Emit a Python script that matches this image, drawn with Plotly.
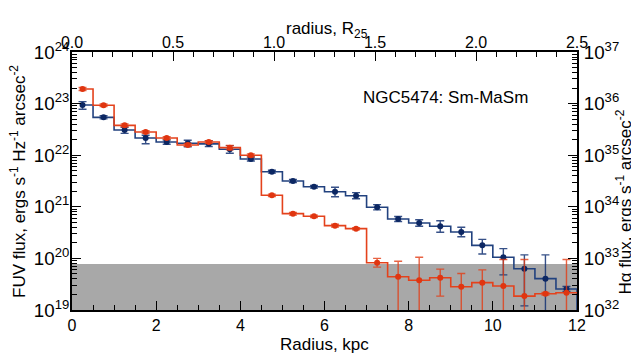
import plotly.graph_objects as go

# ---------------- data ----------------
r_kpc = [0.25, 0.75, 1.25, 1.75, 2.25, 2.75, 3.25, 3.75, 4.25, 4.75, 5.25, 5.75,
         6.25, 6.75, 7.25, 7.75, 8.25, 8.75, 9.25, 9.75, 10.25, 10.75, 11.25, 11.75]
profile_start_kpc = 0.2
profile_end_kpc = 12.0

fuv_flux = [9.4e22, 5.42e22, 3.08e22, 2.15e22, 1.80e22, 1.70e22, 1.66e22, 1.30e22,
            8.43e21, 4.79e21, 3.16e21, 2.45e21, 1.96e21, 1.64e21, 9.8e20, 5.8e20,
            4.85e20, 4.19e20, 3.25e20, 1.79e20, 1.05e20, 6.3e19, 4.05e19, 2.55e19]
fuv_hi = [1.09e23, 5.8e22, 3.48e22, 2.43e22, 1.97e22, 1.95e22, 1.90e22, 1.53e22,
          9.2e21, 5.1e21, 3.4e21, 2.6e21, 2.39e21, 1.88e21, 1.1e21, 6.5e20,
          5.6e20, 5.38e20, 4.01e20, 2.34e20, 1.55e20, 1.17e20, 1.17e20, 2.85e19]
fuv_lo = [7.76e22, 5.05e22, 2.65e22, 1.67e22, 1.63e22, 1.46e22, 1.47e22, 1.09e22,
          7.7e21, 4.5e21, 2.95e21, 2.3e21, 1.57e21, 1.43e21, 8.7e20, 5.2e20,
          4.2e20, 3.21e20, 2.63e20, 1.22e20, 4.8e19, 1.2e19, 1e18, 2.28e19]

ha_flux = [1.92e36, 9.27e35, 3.79e35, 2.82e35, 2.15e35, 1.58e35, 1.80e35, 1.40e35,
           9.95e34, 1.67e34, 7.36e33, 6.55e33, 4.31e33, 3.77e33, 8.26e32, 4.42e32,
           3.76e32, 4.23e32, 2.82e32, 3.39e32, 2.92e32, 1.86e32, 2.07e32, 2.16e32]
ha_hi = [2.05e36, 9.8e35, 4.05e35, 3.0e35, 2.28e35, 1.68e35, 1.92e35, 1.55e35,
         1.06e35, 1.76e34, 7.8e33, 6.9e33, 4.6e33, 3.95e33, 1.0e33, 8.8e32,
         1.05e33, 6.2e32, 5.1e32, 6.0e32, 9.5e32, 9.5e32, 2.2e32, 9.5e32]
ha_lo = [1.8e36, 8.8e35, 3.55e35, 2.65e35, 2.03e35, 1.49e35, 1.7e35, 1.27e35,
         9.3e34, 1.58e34, 6.9e33, 6.2e33, 4.05e33, 3.6e33, 6.76e32, 1e30,
         1e30, 1.86e32, 1e30, 1e30, 1e30, 1e30, 1.95e32, 1e30]

fuv_limit = 7.8e19          # shaded background level
fuv_floor = 1e18            # blue profile drops to here past the last bin

x_range_kpc = [0, 12]
x_range_r25 = [0, 2.5]
fuv_range_log = [19, 24]
ha_range_log = [32, 37]

label_text = "NGC5474: Sm-MaSm"

# ---------------- style ----------------
BLUE_LINE = "#22427f"
BLUE_MARK = "#0c2763"
RED_LINE = "#e4421c"
RED_MARK = "#e03510"
GRAY = "#a8a8a8"
FONT = "Liberation Sans, Arial, Helvetica, sans-serif"

fig = go.Figure()

# shaded region
fig.add_trace(go.Scatter(
    x=[x_range_kpc[0], x_range_kpc[1], x_range_kpc[1], x_range_kpc[0], x_range_kpc[0]],
    y=[10 ** fuv_range_log[0] / 10, 10 ** fuv_range_log[0] / 10, fuv_limit, fuv_limit, 10 ** fuv_range_log[0] / 10],
    fill="toself", fillcolor=GRAY, line=dict(width=0), mode="lines",
    hoverinfo="skip", showlegend=False, xaxis="x", yaxis="y"))

# blue step profile (FUV)
bx = [profile_start_kpc] + r_kpc + [profile_end_kpc, profile_end_kpc]
by = [fuv_flux[0]] + fuv_flux + [fuv_flux[-1], fuv_floor]
fig.add_trace(go.Scatter(x=bx, y=by, mode="lines", line=dict(color=BLUE_LINE, width=1.6, shape="hvh"),
                         showlegend=False, xaxis="x", yaxis="y"))

# red step profile (Halpha)
rx = [profile_start_kpc] + r_kpc + [profile_end_kpc]
ry = [ha_flux[0]] + ha_flux + [ha_flux[-1]]
fig.add_trace(go.Scatter(x=rx, y=ry, mode="lines", line=dict(color=RED_LINE, width=1.6, shape="hvh"),
                         showlegend=False, xaxis="x", yaxis="y2"))

# blue points with errors
fig.add_trace(go.Scatter(
    x=r_kpc, y=fuv_flux, mode="markers",
    marker=dict(color=BLUE_MARK, size=6),
    error_y=dict(type="data", symmetric=False,
                 array=[h - v for h, v in zip(fuv_hi, fuv_flux)],
                 arrayminus=[v - l for v, l in zip(fuv_flux, fuv_lo)],
                 color="rgba(20,50,115,0.85)", thickness=1.4, width=4),
    showlegend=False, xaxis="x", yaxis="y"))

# red points with errors
fig.add_trace(go.Scatter(
    x=r_kpc, y=ha_flux, mode="markers",
    marker=dict(color=RED_MARK, size=6),
    error_y=dict(type="data", symmetric=False,
                 array=[h - v for h, v in zip(ha_hi, ha_flux)],
                 arrayminus=[v - l for v, l in zip(ha_flux, ha_lo)],
                 color="rgba(226,60,20,0.8)", thickness=1.4, width=4),
    showlegend=False, xaxis="x", yaxis="y2"))

# dummy trace to activate top axis
fig.add_trace(go.Scatter(x=x_range_r25, y=[None, None], mode="lines", showlegend=False,
                         xaxis="x2", yaxis="y", hoverinfo="skip"))

tickfont = dict(family=FONT, size=16, color="black")
yfont = dict(family=FONT, size=15, color="black")
common = dict(showline=True, linecolor="black", linewidth=1.5, ticks="inside",
              tickcolor="black", tickwidth=1.2, showgrid=False, zeroline=False,
              automargin=False)

fig.update_layout(
    width=631, height=354,
    margin=dict(l=72, r=54, t=52, b=44, pad=0, autoexpand=False),
    paper_bgcolor="white", plot_bgcolor="white",
    font=dict(family=FONT, size=16, color="black"),
    xaxis=dict(range=x_range_kpc, dtick=2, ticklen=9, side="bottom", tickfont=tickfont,
               minor=dict(ticks="inside", dtick=0.5, ticklen=5, tickcolor="black", tickwidth=1),
               **common),
    xaxis2=dict(range=x_range_r25, dtick=0.5, tickformat=".1f", ticklen=9, side="top",
                overlaying="x", anchor="y", ticklabelstandoff=-4, tickfont=tickfont,
                minor=dict(ticks="inside", dtick=0.1, ticklen=5, tickcolor="black", tickwidth=1),
                **common),
    yaxis=dict(type="log", range=fuv_range_log, dtick=1, exponentformat="power", ticklen=9,
               ticklabelstandoff=-2, tickfont=yfont,
               minor=dict(ticks="inside", dtick="D1", ticklen=5, tickcolor="black", tickwidth=1),
               **common),
    yaxis2=dict(type="log", range=ha_range_log, dtick=1, exponentformat="power", ticklen=9,
                side="right", overlaying="y", anchor="x", ticklabelstandoff=2, tickfont=yfont,
                minor=dict(ticks="inside", dtick="D1", ticklen=5, tickcolor="black", tickwidth=1),
                **common),
)

ann_font = dict(family=FONT, size=17, color="black")
fig.add_annotation(text="Radius, kpc", xref="paper", yref="paper", x=0.5, y=-0.132,
                   xanchor="center", yanchor="middle", showarrow=False, font=ann_font)
fig.add_annotation(text="radius, R<sub>25</sub>", xref="paper", yref="paper", x=0.505, y=1.086,
                   xanchor="center", yanchor="middle", showarrow=False, font=ann_font)
fig.add_annotation(text="FUV flux, ergs s<sup>-1</sup> Hz<sup>-1</sup> arcsec<sup>-2</sup>",
                   xref="paper", yref="paper", x=-0.107, y=0.5, textangle=-90,
                   xanchor="center", yanchor="middle", showarrow=False, font=ann_font)
fig.add_annotation(text="H\u03b1 flux, ergs s<sup>-1</sup> arcsec<sup>-2</sup>",
                   xref="paper", yref="paper", x=1.093, y=0.42, textangle=-90,
                   xanchor="center", yanchor="middle", showarrow=False, font=ann_font)
fig.add_annotation(text=label_text, xref="paper", yref="paper", x=0.74, y=0.822,
                   xanchor="center", yanchor="middle", showarrow=False, font=ann_font)

fig.write_html("out.html", config={"displayModeBar": False},
               post_script="document.body.style.margin='0';document.body.style.overflow='hidden';")
